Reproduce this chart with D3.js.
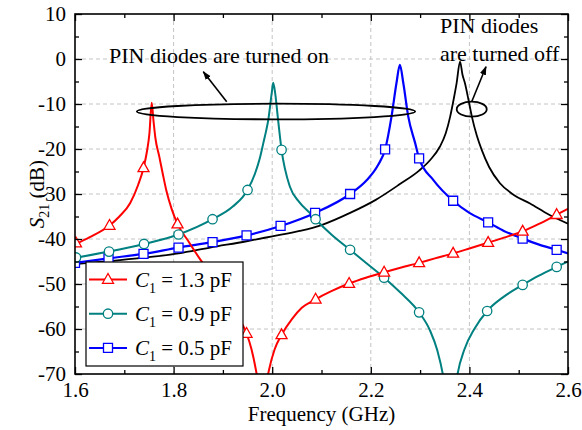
<!DOCTYPE html>
<html><head><meta charset="utf-8">
<script src="https://cdn.jsdelivr.net/npm/d3@7"></script>
<style>
body{margin:0;background:#fff;}
svg{display:block;}
text{font-family:"Liberation Serif","Times New Roman",serif;}
</style></head>
<body><svg id="c" width="582" height="430" font-family="Liberation Serif"></svg>
<script>
// ---------- data ----------
const xTickVals = [1.6, 1.8, 2.0, 2.2, 2.4, 2.6];
const xTickLabels = ["1.6", "1.8", "2.0", "2.2", "2.4", "2.6"];
const yTickVals = [10, 0, -10, -20, -30, -40, -50, -60, -70];
const yTickLabels = ["10", "0", "-10", "-20", "-30", "-40", "-50", "-60", "-70"];
const seriesNames = ["1.3", "0.9", "0.5"];

// C1 = 1.3 pF (red)
const redF = [1.600,1.630,1.670,1.690,1.712,1.728,1.739,1.746,1.751,1.7556,1.759,1.763,1.771,1.778,1.785,1.796,1.808,1.830,1.855,1.880,1.900,1.920,1.935,1.948,1.958,1.967,1.973,1.980,1.987,1.9935,2.005,2.019,2.040,2.060,2.088,2.120,2.156,2.190,2.227,2.260,2.298,2.330,2.367,2.400,2.438,2.470,2.508,2.540,2.577,2.600];
const redV = [-41.2,-39.6,-37.0,-35.0,-32.0,-28.0,-24.2,-20.5,-16.5,-9.7,-13.5,-17.5,-21.7,-25.5,-29.1,-33.3,-36.7,-40.5,-44.7,-48.3,-51.5,-55.0,-58.0,-61.0,-64.5,-69.1,-73,-82,-73,-69.1,-64.5,-61.3,-57.8,-55.3,-53.4,-51.6,-49.9,-48.6,-47.4,-46.4,-45.3,-44.3,-43.2,-42.1,-40.8,-39.7,-38.3,-36.7,-34.6,-33.3];
const redMF = [1.602,1.670,1.739,1.808,1.876,1.948,2.019,2.088,2.156,2.227,2.298,2.367,2.438,2.508,2.577];
const redMV = [-40.9,-37.0,-24.2,-36.7,-47.9,-61.0,-61.3,-53.4,-49.9,-47.4,-45.3,-43.2,-40.8,-38.3,-34.6];

// C1 = 0.9 pF (teal)
const tealF = [1.600,1.669,1.740,1.810,1.879,1.920,1.950,1.965,1.975,1.982,1.988,1.992,1.999,2.002,2.006,2.012,2.019,2.036,2.055,2.077,2.088,2.120,2.158,2.190,2.227,2.260,2.298,2.320,2.335,2.346,2.354,2.361,2.368,2.376,2.390,2.410,2.436,2.470,2.508,2.540,2.577,2.600];
const tealV = [-44.2,-42.8,-41.1,-39.0,-35.6,-32.8,-29.1,-25.5,-22.0,-18.7,-15.8,-13.6,-7.6,-5.3,-7.6,-13.6,-20.2,-28.4,-31.8,-34.3,-35.6,-39.0,-42.4,-45.3,-48.6,-51.9,-56.3,-60.3,-64.8,-70,-76,-84,-76,-70,-64.5,-60.0,-56.0,-52.8,-50.2,-48.2,-46.2,-45.0];
const tealMF = [1.602,1.669,1.740,1.810,1.879,1.950,2.019,2.088,2.158,2.227,2.298,2.436,2.508,2.577];
const tealMV = [-44.1,-42.8,-41.1,-39.0,-35.6,-29.1,-20.2,-35.6,-42.4,-48.6,-56.3,-56.0,-50.2,-46.2];

// C1 = 0.5 pF (blue)
const blueF = [1.600,1.668,1.739,1.810,1.879,1.948,2.017,2.087,2.158,2.192,2.215,2.229,2.242,2.252,2.259,2.266,2.276,2.290,2.298,2.327,2.367,2.400,2.438,2.470,2.508,2.540,2.577,2.600];
const blueV = [-45.3,-44.3,-43.3,-41.9,-40.7,-39.2,-37.1,-34.2,-30.0,-26.9,-23.5,-20.1,-12.8,-5.4,-1.3,-5.4,-12.8,-18.7,-22.1,-26.9,-31.5,-34.2,-36.3,-38.2,-39.9,-41.2,-42.4,-43.2];
const blueMF = [1.600,1.668,1.739,1.810,1.879,1.948,2.017,2.087,2.158,2.229,2.298,2.367,2.438,2.508,2.577];
const blueMV = [-45.3,-44.3,-43.3,-41.9,-40.7,-39.2,-37.1,-34.2,-30.0,-20.1,-22.1,-31.5,-36.3,-39.9,-42.4];

// PIN diodes off (black)
const offF = [1.600,1.700,1.810,1.874,1.948,2.000,2.056,2.100,2.158,2.210,2.259,2.298,2.320,2.340,2.352,2.361,2.368,2.374,2.381,2.386,2.391,2.398,2.405,2.415,2.425,2.440,2.462,2.490,2.523,2.560,2.600];
const offV = [-45.6,-44.6,-43.2,-41.9,-40.5,-39.4,-38.2,-36.9,-34.2,-31.3,-27.8,-24.8,-22.5,-19.5,-16.5,-12.8,-9.0,-5.4,-0.6,-3.5,-5.4,-9.0,-12.8,-17.0,-20.2,-24.0,-27.6,-30.2,-32.1,-34.5,-36.6];

// ---------- chart ----------
const FONT = "Liberation Serif, Times New Roman, serif";
const svg = d3.select("#c");
const L = 75, R = 568, T = 14, B = 374;
const x = d3.scaleLinear().domain([1.6, 2.6]).range([L, R]);
const y = d3.scaleLinear().domain([-70, 10]).range([B, T]);
const FS = 21;

// grid
const g = svg.append("g");
g.selectAll("line.gx").data(xTickVals.slice(1, -1)).enter().append("line")
  .attr("x1", d => x(d)).attr("x2", d => x(d)).attr("y1", T).attr("y2", B)
  .attr("stroke", "#c4c4c4").attr("stroke-width", 1).attr("stroke-dasharray", "4,3");
g.selectAll("line.gy").data(yTickVals.slice(1, -1)).enter().append("line")
  .attr("x1", L).attr("x2", R).attr("y1", d => y(d)).attr("y2", d => y(d))
  .attr("stroke", "#c4c4c4").attr("stroke-width", 1).attr("stroke-dasharray", "4,3");

// clip
svg.append("defs").append("clipPath").attr("id", "clip")
  .append("rect").attr("x", L).attr("y", T).attr("width", R - L).attr("height", B - T);

const line = d3.line().x(d => x(d[0])).y(d => y(d[1])).curve(d3.curveMonotoneX);
const plot = svg.append("g").attr("clip-path", "url(#clip)");

function zip(a, b) { return a.map((v, i) => [v, b[i]]); }

plot.append("path").datum(zip(offF, offV)).attr("d", line)
  .attr("fill", "none").attr("stroke", "#000").attr("stroke-width", 1.8);
plot.append("path").datum(zip(blueF, blueV)).attr("d", line)
  .attr("fill", "none").attr("stroke", "#0000ff").attr("stroke-width", 2.2);
plot.append("path").datum(zip(tealF, tealV)).attr("d", line)
  .attr("fill", "none").attr("stroke", "#008080").attr("stroke-width", 2);
plot.append("path").datum(zip(redF, redV)).attr("d", line)
  .attr("fill", "none").attr("stroke", "#ff0000").attr("stroke-width", 2);

const triPath = "M0,-6L5.5,3.8L-5.5,3.8Z";
const sqPath = "M-4.5,-4.5H4.5V4.5H-4.5Z";
function markers(F, V, color, kind) {
  const sel = plot.append("g").selectAll("path").data(zip(F, V)).enter();
  if (kind === "circle") {
    sel.append("circle").attr("cx", d => x(d[0])).attr("cy", d => y(d[1])).attr("r", 4.7)
      .attr("fill", "#fff").attr("stroke", color).attr("stroke-width", 1.3);
  } else {
    sel.append("path").attr("transform", d => `translate(${x(d[0])},${y(d[1])})`)
      .attr("d", kind === "tri" ? triPath : sqPath)
      .attr("fill", "#fff").attr("stroke", color).attr("stroke-width", 1.3);
  }
}
markers(blueMF, blueMV, "#0000ff", "sq");
markers(tealMF, tealMV, "#008080", "circle");
markers(redMF, redMV, "#ff0000", "tri");

// axes
const xMinor = d3.range(1.7, 2.6, 0.2);
const yMinor = d3.range(5, -70, -10);
function styleAxis(sel) {
  sel.attr("font-family", FONT).attr("font-size", FS);
  sel.select(".domain").remove();
  sel.selectAll("line").attr("stroke", "#000").attr("stroke-width", 1.3);
  sel.selectAll("text").attr("font-size", FS).attr("font-family", FONT).attr("fill", "#000");
}
svg.append("g").attr("transform", `translate(0,${B})`)
  .call(d3.axisBottom(x).tickValues(xTickVals).tickFormat((d, i) => xTickLabels[i]).tickSize(-7).tickPadding(8))
  .call(styleAxis);
svg.append("g").attr("transform", `translate(0,${B})`)
  .call(d3.axisBottom(x).tickValues(xMinor).tickFormat("").tickSize(-4)).call(styleAxis);
svg.append("g").attr("transform", `translate(0,${T})`)
  .call(d3.axisTop(x).tickValues(xTickVals).tickFormat("").tickSize(-7)).call(styleAxis);
svg.append("g").attr("transform", `translate(0,${T})`)
  .call(d3.axisTop(x).tickValues(xMinor).tickFormat("").tickSize(-4)).call(styleAxis);
svg.append("g").attr("transform", `translate(${L},0)`)
  .call(d3.axisLeft(y).tickValues(yTickVals).tickFormat((d, i) => yTickLabels[i]).tickSize(-7).tickPadding(9))
  .call(styleAxis);
svg.append("g").attr("transform", `translate(${L},0)`)
  .call(d3.axisLeft(y).tickValues(yMinor).tickFormat("").tickSize(-4)).call(styleAxis);
svg.append("g").attr("transform", `translate(${R},0)`)
  .call(d3.axisRight(y).tickValues(yTickVals).tickFormat("").tickSize(-7)).call(styleAxis);
svg.append("g").attr("transform", `translate(${R},0)`)
  .call(d3.axisRight(y).tickValues(yMinor).tickFormat("").tickSize(-4)).call(styleAxis);

svg.append("rect").attr("x", L).attr("y", T).attr("width", R - L).attr("height", B - T)
  .attr("fill", "none").attr("stroke", "#000").attr("stroke-width", 1.6);

// axis titles
svg.append("text").attr("x", (L + R) / 2).attr("y", 421).attr("text-anchor", "middle")
  .attr("font-family", FONT).attr("font-size", FS).text("Frequency (GHz)");
const yl = svg.append("text").attr("transform", `translate(44,${(T + B) / 2}) rotate(-90)`)
  .attr("text-anchor", "middle").attr("font-family", FONT).attr("font-size", FS);
yl.append("tspan").attr("font-style", "italic").text("S");
yl.append("tspan").attr("font-size", 14).attr("dy", 5).text("21");
yl.append("tspan").attr("dy", -5).text(" (dB)");

// legend
const lg = svg.append("g");
lg.append("rect").attr("x", 86).attr("y", 262).attr("width", 157).attr("height", 104)
  .attr("fill", "#fff").attr("stroke", "#000").attr("stroke-width", 1.2);
const legColors = ["#ff0000", "#008080", "#0000ff"];
const legKinds = ["tri", "circle", "sq"];
seriesNames.forEach((nm, i) => {
  const yy = 279.5 + i * 34.2;
  lg.append("line").attr("x1", 89).attr("x2", 127).attr("y1", yy).attr("y2", yy)
    .attr("stroke", legColors[i]).attr("stroke-width", 2);
  if (legKinds[i] === "circle") {
    lg.append("circle").attr("cx", 108).attr("cy", yy).attr("r", 4.7)
      .attr("fill", "#fff").attr("stroke", legColors[i]).attr("stroke-width", 1.3);
  } else {
    lg.append("path").attr("transform", `translate(108,${yy})`)
      .attr("d", legKinds[i] === "tri" ? triPath : sqPath)
      .attr("fill", "#fff").attr("stroke", legColors[i]).attr("stroke-width", 1.3);
  }
  const t = lg.append("text").attr("x", 135).attr("y", yy + 7)
    .attr("font-family", FONT).attr("font-size", FS);
  t.append("tspan").attr("font-style", "italic").text("C");
  t.append("tspan").attr("font-size", 14).attr("dy", 6).text("1");
  t.append("tspan").attr("dy", -6).text(` = ${nm} pF`);
});

// annotations
const ann = svg.append("g");
ann.append("defs").append("marker").attr("id", "ah").attr("viewBox", "0 0 10 10")
  .attr("refX", 9).attr("refY", 5).attr("markerWidth", 9).attr("markerHeight", 9)
  .attr("markerUnits", "userSpaceOnUse").attr("orient", "auto")
  .append("path").attr("d", "M0,1.5L10,5L0,8.5Z").attr("fill", "#000");
ann.append("ellipse").attr("cx", x(2.0077)).attr("cy", y(-11.67))
  .attr("rx", x(2.29) - x(2.0077)).attr("ry", 7.8)
  .attr("fill", "none").attr("stroke", "#000").attr("stroke-width", 1.8);
ann.append("ellipse").attr("cx", x(2.4047)).attr("cy", y(-11.16))
  .attr("rx", 15).attr("ry", 7.5)
  .attr("fill", "none").attr("stroke", "#000").attr("stroke-width", 1.8);
ann.append("line").attr("x1", 226.7).attr("y1", 101.7).attr("x2", 203.3).attr("y2", 71.7)
  .attr("stroke", "#000").attr("stroke-width", 1.6).attr("marker-end", "url(#ah)");
ann.append("line").attr("x1", 471.7).attr("y1", 101.7).attr("x2", 486).attr("y2", 66.7)
  .attr("stroke", "#000").attr("stroke-width", 1.6).attr("marker-end", "url(#ah)");
const AFS = 22;
ann.append("text").attr("x", 109).attr("y", 63).attr("font-family", FONT).attr("font-size", AFS).text("PIN diodes are turned on");
ann.append("text").attr("x", 440).attr("y", 33).attr("font-family", FONT).attr("font-size", AFS).text("PIN diodes");
ann.append("text").attr("x", 440).attr("y", 60.5).attr("font-family", FONT).attr("font-size", AFS).text("are turned off");
</script></body></html>
